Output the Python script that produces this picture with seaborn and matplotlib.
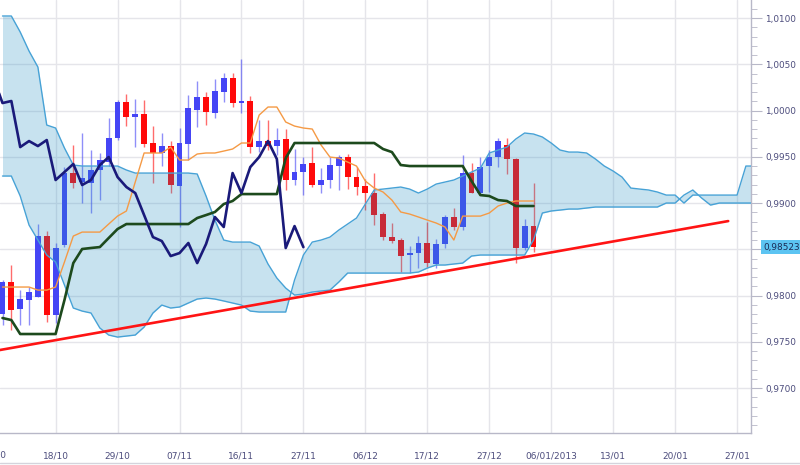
import numpy as np
import matplotlib
matplotlib.use("Agg")
import matplotlib.pyplot as plt
import matplotlib.transforms as mtransforms
from matplotlib.lines import Line2D
from matplotlib.ticker import FixedLocator, MultipleLocator, FuncFormatter
import seaborn as sns

# ---------------- data ----------------
opens = [0.97800, 0.98146, 0.97854, 0.97951, 0.97984, 0.98643, 0.97789, 0.98546, 0.99324, 0.99227,
         0.99216, 0.99357, 0.99443, 0.99703, 1.00092, 0.99930, 0.99962, 0.99649, 0.99541, 0.99616,
         0.99184, 0.99638, 1.00005, 1.00146, 0.99973, 1.00200, 1.00351, 1.00081, 1.00103, 0.99605,
         0.99670, 0.99616, 0.99692, 0.99249, 0.99335, 0.99432, 0.99195, 0.99249, 0.99400, 0.99497,
         0.99281, 0.99184, 0.99108, 0.98881, 0.98632, 0.98600, 0.98438, 0.98459, 0.98568, 0.98341,
         0.98557, 0.98849, 0.98741, 0.99324, 0.99108, 0.99400, 0.99497, 0.99627, 0.99476, 0.98514,
         0.98751]
highs = [0.98168, 0.98330, 0.98059, 0.98092, 0.98773, 0.98697, 0.98568, 0.99389, 0.99627, 0.99757,
         0.99573, 0.99541, 0.99919, 1.00114, 1.00178, 1.00124, 1.00114, 0.99832, 0.99757, 0.99670,
         0.99811, 1.00168, 1.00319, 1.00200, 1.00341, 1.00405, 1.00405, 1.00557, 1.00157, 0.99897,
         0.99897, 0.99811, 0.99800, 0.99584, 0.99497, 0.99605, 0.99378, 0.99497, 0.99519, 0.99530,
         0.99389, 0.99259, 0.99324, 0.98903, 0.98784, 0.98622, 0.98535, 0.98643, 0.98795, 0.98611,
         0.98870, 0.98946, 0.99519, 0.99432, 0.99497, 0.99573, 0.99703, 0.99703, 0.99486, 0.98827,
         0.99216]
lows = [0.97681, 0.97627, 0.97681, 0.97681, 0.97984, 0.97714, 0.97703, 0.98524, 0.99162, 0.99000,
        0.98892, 0.99032, 0.99400, 0.99681, 0.99832, 0.99605, 0.99605, 0.99216, 0.99400, 0.99108,
        0.98741, 0.99465, 0.99822, 0.99843, 0.99919, 1.00092, 1.00038, 0.99973, 0.99541, 0.99551,
        0.99573, 0.99519, 0.99141, 0.99195, 0.99086, 0.99173, 0.99108, 0.99162, 0.99141, 0.99151,
        0.99086, 0.98924, 0.98762, 0.98600, 0.98568, 0.98254, 0.98243, 0.98297, 0.98308, 0.98297,
        0.98514, 0.98708, 0.98708, 0.99108, 0.99086, 0.99119, 0.99389, 0.99314, 0.98351, 0.98492,
        0.98470]
closes = [0.98146, 0.97843, 0.97962, 0.98038, 0.98643, 0.97789, 0.98514, 0.99324, 0.99216, 0.99270,
          0.99357, 0.99465, 0.99703, 1.00092, 0.99930, 0.99962, 0.99638, 0.99541, 0.99616, 0.99195,
          0.99649, 1.00027, 1.00146, 0.99984, 1.00211, 1.00351, 1.00081, 1.00103, 0.99605, 0.99670,
          0.99616, 0.99681, 0.99249, 0.99335, 0.99422, 0.99195, 0.99249, 0.99411, 0.99497, 0.99281,
          0.99173, 0.99108, 0.98870, 0.98632, 0.98589, 0.98427, 0.98459, 0.98568, 0.98351, 0.98557,
          0.98849, 0.98741, 0.99324, 0.99108, 0.99389, 0.99497, 0.99670, 0.99476, 0.98514, 0.98751,
          0.98523]

tenkan = [0.98092, 0.98092, 0.98092, 0.98092, 0.98059, 0.98059, 0.98092, 0.98362, 0.98643, 0.98686,
          0.98686, 0.98686, 0.98773, 0.98859, 0.98914, 0.99227, 0.99541, 0.99541, 0.99541, 0.99605,
          0.99465, 0.99465, 0.99530, 0.99541, 0.99541, 0.99562, 0.99584, 0.99649, 0.99649, 0.99951,
          1.00038, 1.00038, 0.99876, 0.99832, 0.99811, 0.99800, 0.99627, 0.99497, 0.99486, 0.99443,
          0.99400, 0.99238, 0.99162, 0.99119, 0.99032, 0.98903, 0.98881, 0.98849, 0.98816, 0.98784,
          0.98741, 0.98600, 0.98859, 0.98859, 0.98859, 0.98892, 0.98968, 0.99000, 0.99022, 0.99022,
          0.99022]
kijun = [0.97757, 0.97735, 0.97584, 0.97584, 0.97584, 0.97584, 0.97584, 0.97951, 0.98351, 0.98503,
         0.98514, 0.98524, 0.98622, 0.98719, 0.98773, 0.98773, 0.98773, 0.98773, 0.98773, 0.98773,
         0.98773, 0.98773, 0.98838, 0.98870, 0.98903, 0.98989, 0.99022, 0.99097, 0.99097, 0.99097,
         0.99097, 0.99097, 0.99486, 0.99649, 0.99649, 0.99649, 0.99649, 0.99649, 0.99649, 0.99649,
         0.99649, 0.99649, 0.99649, 0.99584, 0.99551, 0.99411, 0.99400, 0.99400, 0.99400, 0.99400,
         0.99400, 0.99400, 0.99400, 0.99238, 0.99086, 0.99076, 0.99032, 0.99022, 0.98968, 0.98968,
         0.98968]
span_a = [1.01022, 1.01022, 1.00849, 1.00643, 1.00470, 0.99843, 0.99811, 0.99595, 0.99411, 0.99400,
          0.99400, 0.99400, 0.99400, 0.99400, 0.99357, 0.99324, 0.99324, 0.99324, 0.99324, 0.99324,
          0.99324, 0.99324, 0.99314, 0.99076, 0.98816, 0.98600, 0.98578, 0.98578, 0.98578, 0.98535,
          0.98341, 0.98189, 0.98081, 0.98005, 0.98016, 0.98038, 0.98049, 0.98059, 0.98146, 0.98243,
          0.98243, 0.98243, 0.98243, 0.98243, 0.98243, 0.98243, 0.98243, 0.98254, 0.98297, 0.98330,
          0.98330, 0.98341, 0.98351, 0.98427, 0.98438, 0.98438, 0.98438, 0.98438, 0.98438, 0.98438,
          0.98600, 0.98892, 0.98914, 0.98924, 0.98935, 0.98935, 0.98946, 0.98957, 0.98957, 0.98957,
          0.98957, 0.98957, 0.98957, 0.98957, 0.98957, 0.99000, 0.99000, 0.99086, 0.99141, 0.99054,
          0.98978, 0.99000, 0.99000, 0.99000, 0.99000, 0.99000]
span_b = [0.99292, 0.99292, 0.99076, 0.98762, 0.98600, 0.98438, 0.98362, 0.98114, 0.97865, 0.97832,
          0.97811, 0.97649, 0.97573, 0.97551, 0.97562, 0.97573, 0.97659, 0.97811, 0.97897, 0.97865,
          0.97876, 0.97919, 0.97962, 0.97973, 0.97962, 0.97941, 0.97919, 0.97897, 0.97832, 0.97822,
          0.97822, 0.97822, 0.97822, 0.98168, 0.98438, 0.98578, 0.98600, 0.98632, 0.98708, 0.98773,
          0.98838, 0.98989, 0.99141, 0.99151, 0.99162, 0.99173, 0.99151, 0.99108, 0.99151, 0.99205,
          0.99227, 0.99249, 0.99292, 0.99335, 0.99378, 0.99541, 0.99573, 0.99605, 0.99692, 0.99757,
          0.99746, 0.99714, 0.99649, 0.99573, 0.99551, 0.99551, 0.99541, 0.99476, 0.99400, 0.99346,
          0.99281, 0.99162, 0.99151, 0.99141, 0.99119, 0.99086, 0.99086, 0.99000, 0.99086, 0.99086,
          0.99086, 0.99086, 0.99086, 0.99086, 0.99400, 0.99400]
chikou_shift = 26

trend_x = [-0.3, 82.0]
trend_y = [0.97411, 0.98805]

last_price = 0.98523

tick_bars = [-1, 6, 13, 20, 27, 34, 41, 48, 55, 62, 69, 76, 83]
tick_labels = ["09/10", "18/10", "29/10", "07/11", "16/11", "27/11", "06/12",
               "17/12", "27/12", "06/01/2013", "13/01", "20/01", "27/01"]
price_ticks = [0.9700, 0.9750, 0.9800, 0.9850, 0.9900, 0.9950, 1.0000, 1.0050, 1.0100]
hidden_price_label = 0.9850  # covered by the last-price tag in the reference

# ---------------- styling ----------------
BLUE = "#4545f5"
RED = "#ff0a0a"
TXT = "#4d4d7d"
GRID = "#e5e5ea"
AXC = "#b8b8c8"

sns.set_style("white")
plt.rcParams["font.family"] = ["DejaVu Sans"]

fig = plt.figure(figsize=(8.0, 4.65), dpi=100)
ax = fig.add_axes([0.0, 32 / 465, 751 / 800, 433 / 465])

o = np.array(opens); c = np.array(closes); h = np.array(highs); l = np.array(lows)
x = np.arange(len(o))
cols = np.where(c >= o, BLUE, RED)

# candles
ax.vlines(x, l, h, colors=cols, lw=1.0, alpha=0.6, zorder=1)
ax.bar(x, np.maximum(np.abs(c - o), 0.00012), bottom=np.minimum(o, c), width=0.66,
       color=cols, linewidth=0, zorder=1.5)

# cloud
sx = np.arange(len(span_a))
ax.fill_between(sx, span_a, span_b, color="#238fc3", alpha=0.25, lw=0, zorder=2)
sns.lineplot(x=sx, y=span_a, ax=ax, color="#47a2d6", lw=1.0, zorder=3)
sns.lineplot(x=sx, y=span_b, ax=ax, color="#47a2d6", lw=1.0, zorder=3)

# ichimoku lines
sns.lineplot(x=x, y=tenkan, ax=ax, color="#f59a45", lw=1.0, zorder=4)
sns.lineplot(x=x, y=kijun, ax=ax, color="#1d4a1d", lw=1.9, zorder=4)
sns.lineplot(x=x - chikou_shift, y=c, ax=ax, color="#1a1a7a", lw=1.9, zorder=4)

# trend line
sns.lineplot(x=trend_x, y=trend_y, ax=ax, color="#ff1414", lw=1.9, zorder=6)

# axes
ax.set_xlim(-0.2825, 84.576)
ax.set_ylim(0.96514, 1.01195)
ax.set_xlabel("")
ax.set_ylabel("")

ax.xaxis.set_major_locator(FixedLocator(tick_bars))
ax.set_xticklabels(tick_labels)
ax.xaxis.set_minor_locator(FixedLocator(np.arange(-1, 85, 7 / 8)))


def price_fmt(v, p):
    if abs(v - hidden_price_label) < 1e-6:
        return ""
    return f"{v:.4f}".replace(".", ",")


ax.yaxis.tick_right()
ax.yaxis.set_major_locator(FixedLocator(price_ticks))
ax.yaxis.set_minor_locator(MultipleLocator(0.001))
ax.yaxis.set_major_formatter(FuncFormatter(price_fmt))

ax.grid(True, which="major", color=GRID, lw=1.0)
ax.set_axisbelow(True)

for s in ["left", "top"]:
    ax.spines[s].set_visible(False)
for s in ["bottom", "right"]:
    ax.spines[s].set_color(AXC)
    ax.spines[s].set_linewidth(1.0)

ax.tick_params(axis="x", which="major", length=10, color=AXC, labelsize=6.5,
               labelcolor=TXT, pad=3)
ax.tick_params(axis="x", which="minor", length=4, color=AXC)
ax.tick_params(axis="y", which="major", length=8, color=AXC, labelsize=6.4,
               labelcolor=TXT, pad=2, right=True, left=False)
ax.tick_params(axis="y", which="minor", length=4, color=AXC, right=True, left=False)

# partially visible first date label at the left edge
ax.text(-1, -0.0508, tick_labels[0],
        transform=mtransforms.blended_transform_factory(ax.transData, ax.transAxes),
        ha="center", va="center", fontsize=6.5, color=TXT, clip_on=False)

# last price tag
ax.text(1.016, last_price, f"{last_price:.5f}".replace(".", ","),
        transform=mtransforms.blended_transform_factory(ax.transAxes, ax.transData),
        ha="left", va="center", fontsize=6.4, color="#1a2a55", clip_on=False, zorder=10,
        bbox=dict(boxstyle="square,pad=0.25", fc="#5cc4f2", ec="none"))

# bottom border line
fig.add_artist(Line2D([0, 1], [2 / 465, 2 / 465], color="#d4d4dc", lw=1.0))

fig.savefig("out.png", dpi=100)
